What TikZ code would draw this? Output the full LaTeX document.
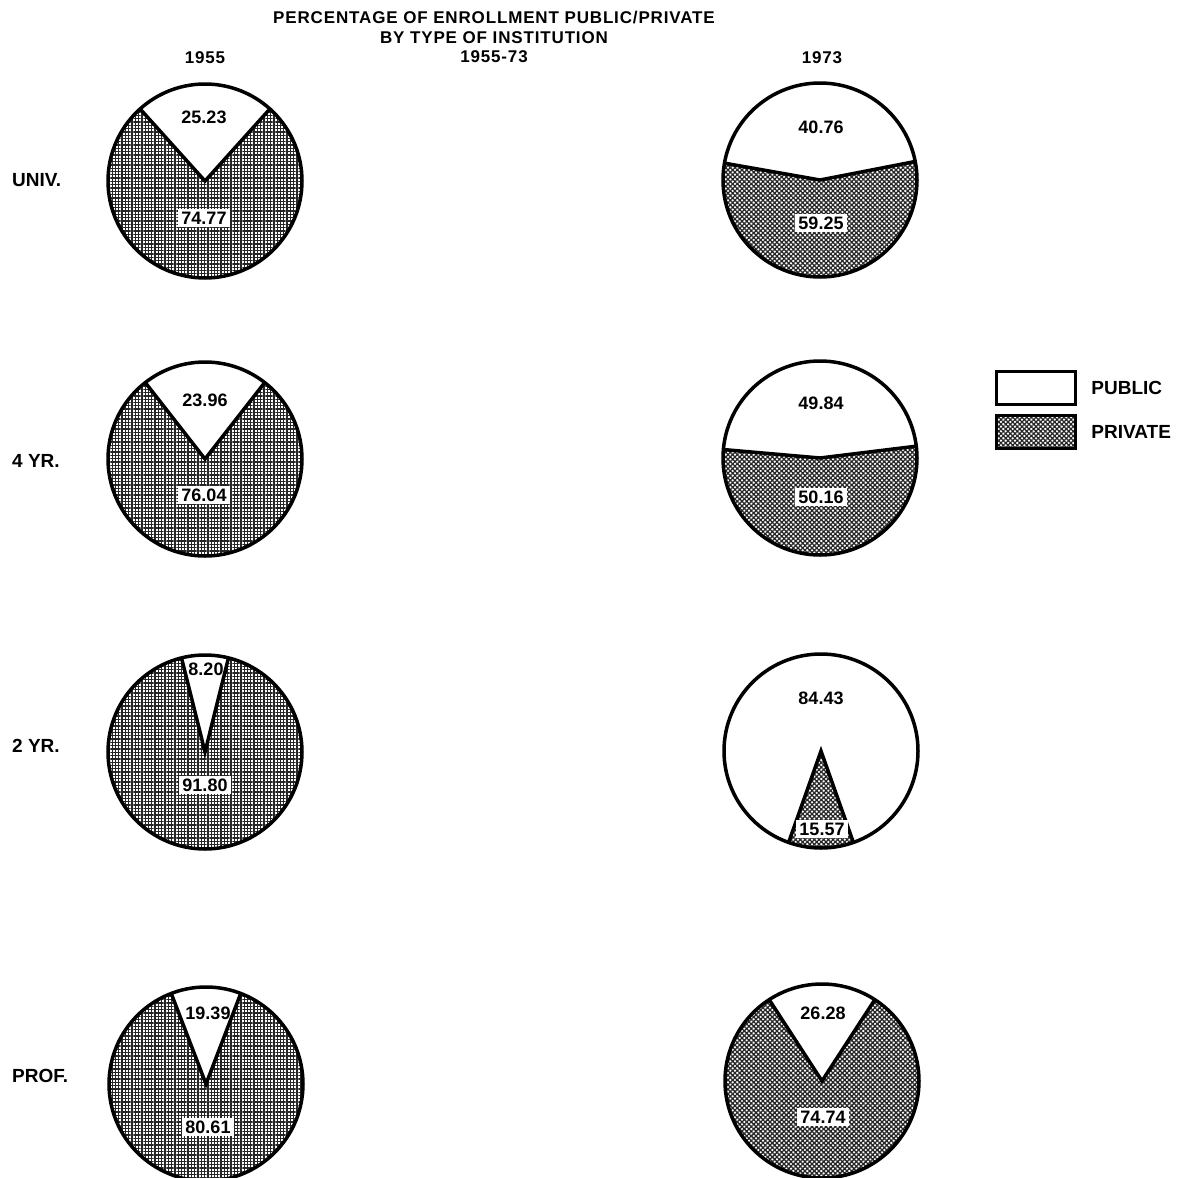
\documentclass[tikz,border=0pt]{standalone}
\usepackage{fontspec}
\setmainfont{Liberation Sans}
\usetikzlibrary{positioning,patterns.meta}

\tikzset{
	privgrid/.style={pattern={Hatch[angle=0, distance=3.3pt, line width=1.25pt]}, pattern color=black!85},
	privdiag/.style={pattern={Hatch[angle=45, distance=3.3pt, line width=1.25pt]}, pattern color=black!85},
}

\newcommand{\pierad}{97pt}
% #1 centre, #2 #3 public slice angles, #4 fill style
\newcommand{\enrollpie}[4]{%
  \begin{scope}[shift={#1}]
    \fill[#4] (0,0) -- (#3:\pierad) arc[start angle=#3, end angle=#2+360, radius=\pierad] -- cycle;
    \draw[pieline] (#2:\pierad) -- (0,0) -- (#3:\pierad);
    \draw[pieline] (0,0) circle[radius=\pierad];
  \end{scope}}

\begin{document}
\begin{tikzpicture}[x=1pt, y=-1pt,
	pieline/.style={draw=black, line width=3.5pt},
	headtext/.style={font=\fontsize{17}{20}\selectfont\bfseries\addfontfeature{LetterSpace=5}, inner sep=1pt},
	rowtext/.style={font=\fontsize{19}{22}\selectfont\bfseries, inner sep=1pt, anchor=west},
	pubnum/.style={font=\fontsize{18}{21}\selectfont\bfseries, inner sep=1pt},
	privnum/.style={font=\fontsize{18}{21}\selectfont\bfseries, fill=white, inner xsep=3pt, inner ysep=2.5pt},
	legbox/.style={draw=black, line width=3.5pt, minimum width=79pt, minimum height=33pt, inner sep=0pt},
	]
	\fill[white] (0,0) rectangle (1181,1178);
	\useasboundingbox (0,0) rectangle (1181,1178);

	%Titles
	\node[headtext] (title1) at (494,18) {PERCENTAGE OF ENROLLMENT PUBLIC/PRIVATE};
	\node[headtext] (title2) at (494,38) {BY TYPE OF INSTITUTION};
	\node[headtext] (title3) at (494,57) {1955-73};
	\node[headtext] (year55) at (205,58) {1955};
	\node[headtext] (year73) at (822,58) {1973};

	%Rows
	\node[rowtext] (univ)  at (11,180)  {UNIV.};
	\node[rowtext] (four)  at (11,461)  {4 YR.};
	\node[rowtext] (two)   at (11,746)  {2 YR.};
	\node[rowtext] (prof)  at (11,1076) {PROF.};

	%Pies
	\enrollpie{(205,181)}{48}{132}{privgrid}
	\enrollpie{(205,459)}{52}{128}{privgrid}
	\enrollpie{(205,752)}{76}{104}{privgrid}
	\enrollpie{(206,1084)}{69}{111}{privgrid}
	\enrollpie{(820,180)}{11}{170}{privdiag}
	\enrollpie{(820,458)}{7}{175}{privdiag}
	\enrollpie{(821,751)}{-70.5}{250.5}{privdiag}
	\enrollpie{(822,1081)}{57}{123}{privdiag}

	%Numbers
	\node[pubnum]  (pu55univ) at (204,117)  {25.23};
	\node[privnum] (pr55univ) at (204,218)  {74.77};
	\node[pubnum]  (pu55four) at (205,400)  {23.96};
	\node[privnum] (pr55four) at (204,495)  {76.04};
	\node[pubnum]  (pu55two)  at (206,669)  {8.20};
	\node[privnum] (pr55two)  at (205,785)  {91.80};
	\node[pubnum]  (pu55prof) at (208,1013) {19.39};
	\node[privnum] (pr55prof) at (208,1127) {80.61};
	\node[pubnum]  (pu73univ) at (821,127)  {40.76};
	\node[privnum] (pr73univ) at (821,223)  {59.25};
	\node[pubnum]  (pu73four) at (821,403)  {49.84};
	\node[privnum] (pr73four) at (821,497)  {50.16};
	\node[pubnum]  (pu73two)  at (821,698)  {84.43};
	\node[privnum] (pr73two)  at (822,829)  {15.57};
	\node[pubnum]  (pu73prof) at (823,1013) {26.28};
	\node[privnum] (pr73prof) at (823,1117) {74.74};

	%Legend
	\node[legbox, fill=white] (pubbox)  at (1036,388) {};
	\node[legbox, privdiag]   (privbox) at (1036,432) {};
	\node[rowtext] (pubtext)  [right=13pt of pubbox]  {PUBLIC};
	\node[rowtext] (privtext) [right=13pt of privbox] {PRIVATE};
\end{tikzpicture}
\end{document}
